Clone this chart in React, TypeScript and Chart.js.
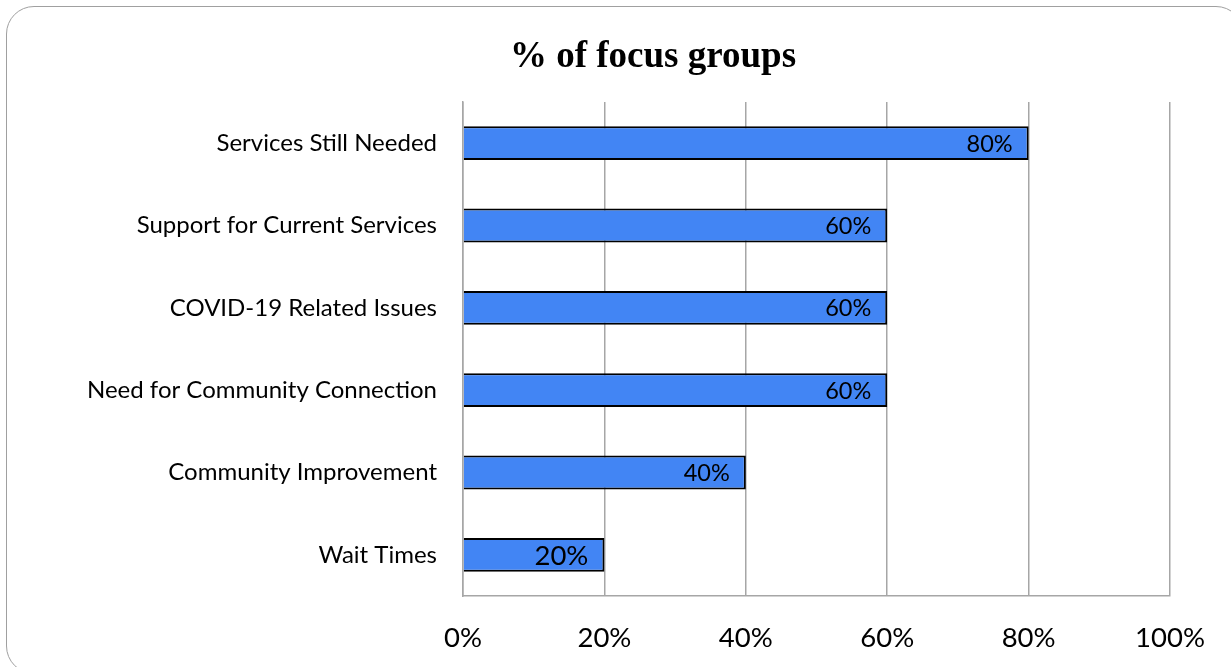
import React, { useEffect, useRef } from "react";
import { Chart, registerables } from "chart.js";

Chart.register(...registerables);

const categories = [
  "Services Still Needed",
  "Support for Current Services",
  "COVID-19 Related Issues",
  "Need for Community Connection",
  "Community Improvement",
  "Wait Times",
];
const values = [80, 60, 60, 60, 40, 20];
const valueLabels = ["80%", "60%", "60%", "60%", "40%", "20%"];
const valueLabelSizes = [23.5, 23.5, 23.5, 23.5, 23.5, 27.5];
const xTickValues = [0, 20, 40, 60, 80, 100];
const chartTitle = "% of focus groups";

const W = 1231;
const H = 667;

const overlayPlugin = {
  id: "overlay",
  afterDatasetsDraw(chart: any) {
    const ctx = chart.ctx;
    const meta = chart.getDatasetMeta(0);
    ctx.save();
    ctx.fillStyle = "#000";
    ctx.textAlign = "right";
    ctx.textBaseline = "middle";
    meta.data.forEach((bar: any, i: number) => {
      ctx.font = `${valueLabelSizes[i]}px Lato`;
      ctx.fillText(valueLabels[i], bar.x - 16, bar.y + 1);
    });
    ctx.restore();
  },
  afterDraw(chart: any) {
    const ctx = chart.ctx;
    ctx.save();
    ctx.fillStyle = "#000";
    ctx.textAlign = "center";
    ctx.textBaseline = "alphabetic";
    ctx.font = "bold 37px 'Liberation Serif'";
    ctx.fillText(chartTitle, 653, 67);
    ctx.restore();
  },
};

export default function App() {
  const ref = useRef<HTMLCanvasElement | null>(null);

  useEffect(() => {
    if (!ref.current) return;
    const chart = new Chart(ref.current, {
      type: "bar",
      data: {
        labels: categories,
        datasets: [
          {
            data: values,
            backgroundColor: "#4285F4",
            borderColor: "#000000",
            borderWidth: 2,
            barPercentage: 0.41,
            categoryPercentage: 1,
          },
        ],
      },
      options: {
        indexAxis: "y",
        responsive: false,
        maintainAspectRatio: false,
        animation: false,
        devicePixelRatio: 1,
        layout: { padding: { top: 102, right: 60, left: 0, bottom: 0 } },
        plugins: {
          legend: { display: false },
          tooltip: { enabled: false },
          title: { display: false },
        },
        scales: {
          x: {
            min: 0,
            max: 100,
            afterBuildTicks: (s: any) => {
              s.ticks = xTickValues.map((v) => ({ value: v }));
            },
            afterFit: (s: any) => {
              s.height = 71;
            },
            ticks: {
              callback: (v: any) => `${v}%`,
              font: { family: "Lato", size: 27.5 },
              color: "#000",
              padding: 26,
              maxRotation: 0,
            },
            grid: { color: "#a6a6a6", lineWidth: 1.5, drawTicks: false },
            border: { display: true, color: "#a6a6a6", width: 1.5 },
          },
          y: {
            afterFit: (s: any) => {
              s.width = 463;
            },
            ticks: {
              font: { family: "Lato", size: 24 },
              color: "#000",
              padding: 26,
            },
            grid: { display: false, drawTicks: false },
            border: { display: true, color: "#a6a6a6", width: 1.5 },
          },
        },
      },
      plugins: [overlayPlugin],
    });
    return () => chart.destroy();
  }, []);

  return (
    <div
      style={{
        position: "absolute",
        left: 0,
        top: 0,
        width: W,
        height: H,
        overflow: "hidden",
        background: "#fff",
      }}
    >
      <div
        style={{
          position: "absolute",
          left: 6,
          top: 6,
          width: 1238,
          height: 668,
          border: "1.5px solid #a0a0a0",
          borderRadius: 28,
          boxSizing: "border-box",
        }}
      />
      <canvas
        ref={ref}
        width={W}
        height={H}
        style={{ position: "absolute", left: 0, top: 0, width: W, height: H }}
      />
    </div>
  );
}
